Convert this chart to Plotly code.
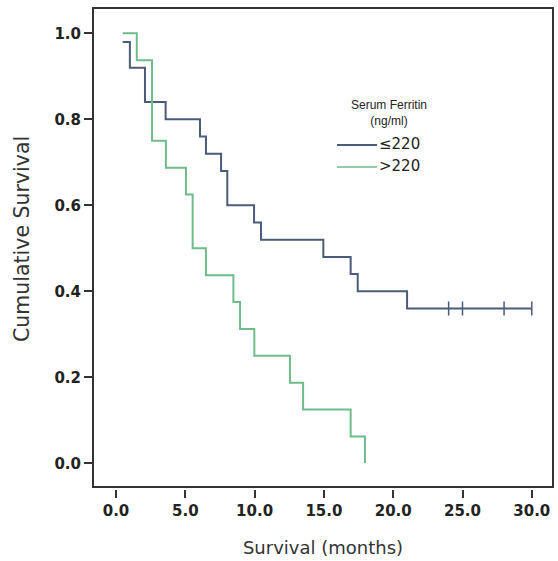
import plotly.graph_objects as go

# Kaplan-Meier step curves by serum ferritin group (months, cumulative survival)
low_times = [0.48, 1.0, 2.09, 3.58, 6.06, 6.49, 7.58, 8.03, 9.96, 10.46, 14.96, 16.93, 17.44, 21.0, 30.0]
low_surv = [0.98, 0.92, 0.84, 0.80, 0.76, 0.72, 0.68, 0.60, 0.56, 0.52, 0.48, 0.44, 0.40, 0.36, 0.36]
low_censor_times = [24.0, 25.0, 28.0, 30.0]
low_censor_surv = [0.36, 0.36, 0.36, 0.36]

high_times = [0.48, 1.5, 2.6, 3.6, 5.05, 5.53, 6.49, 8.47, 8.95, 9.98, 12.55, 13.5, 16.93, 17.96]
high_surv = [1.0, 0.9375, 0.75, 0.6875, 0.625, 0.5, 0.4375, 0.375, 0.3125, 0.25, 0.1875, 0.125, 0.0625, 0.0]

x_ticks = [0, 5, 10, 15, 20, 25, 30]
y_ticks = [0.0, 0.2, 0.4, 0.6, 0.8, 1.0]

group_labels = ["\u2264220", ">220"]
legend_title = "Serum Ferritin<br>(ng/ml)"

LOW_COLOR = "#4b5b7a"
HIGH_COLOR = "#6fbc8b"
TEXT_COLOR = "#222222"
FONT = "Liberation Sans, Arial, sans-serif"
WIDE = "DejaVu Sans, sans-serif"

fig = go.Figure()
fig.add_trace(go.Scatter(
    x=low_times, y=low_surv, mode="lines", line=dict(color=LOW_COLOR, width=2, shape="hv"),
    name=group_labels[0], showlegend=False, cliponaxis=False,
))
fig.add_trace(go.Scatter(
    x=low_censor_times, y=low_censor_surv, mode="markers",
    marker=dict(symbol="line-ns", size=10, line=dict(color=LOW_COLOR, width=1.5)),
    showlegend=False, cliponaxis=False,
))
fig.add_trace(go.Scatter(
    x=high_times, y=high_surv, mode="lines", line=dict(color=HIGH_COLOR, width=2, shape="hv"),
    name=group_labels[1], showlegend=False, cliponaxis=False,
))

W, H = 558, 561
ML, MR, MT, MB = 93, 5, 8, 72
ph = H - MT - MB
pw = W - ML - MR

def px_x(px):
    return (px - ML) / pw

def px_y(py):
    return (H - MB - py) / ph

# plot frame (bottom edge sits a little above the x tick marks)
fig.add_shape(type="rect", xref="paper", yref="paper", x0=0, x1=1, y0=px_y(487), y1=1,
              line=dict(color="#333333", width=2), layer="above")

# legend block
fig.add_annotation(xref="paper", yref="paper", x=px_x(389), y=px_y(113), text=legend_title,
                   showarrow=False, xanchor="center", yanchor="middle", align="center",
                   font=dict(family=FONT, size=12, color=TEXT_COLOR))
for i, (lab, col, yy) in enumerate(zip(group_labels, [LOW_COLOR, HIGH_COLOR], [145, 167])):
    fig.add_shape(type="line", xref="paper", yref="paper", x0=px_x(337), x1=px_x(377),
                  y0=px_y(yy), y1=px_y(yy), line=dict(color=col, width=2 if i == 0 else 1.5))
    fig.add_annotation(xref="paper", yref="paper", x=px_x(377), y=px_y(yy - 1), text=lab,
                       showarrow=False, xanchor="left", yanchor="middle",
                       font=dict(family=WIDE, size=15, color=TEXT_COLOR))

# vertical axis title
fig.add_annotation(xref="paper", yref="paper", x=px_x(22), y=px_y(239), text="Cumulative Survival",
                   textangle=-90, showarrow=False, xanchor="center", yanchor="middle",
                   font=dict(family=WIDE, size=20.5, color="#333333"))

fig.update_xaxes(
    range=[(93 - 116) / 13.86, (553 - 116) / 13.86],
    tickvals=x_ticks, tickformat=".1f",
    ticks="outside", ticklen=8, tickwidth=1.5, tickcolor="#333333",
    showline=False, showgrid=False, zeroline=False,
    tickfont=dict(family=WIDE, size=15, color=TEXT_COLOR, weight="bold"),
    title=dict(text="Survival (months)", font=dict(family=WIDE, size=18, color="#333333"), standoff=22),
)
fig.update_yaxes(
    range=[(463.3 - 489) / 430, (463.3 - 8) / 430],
    tickvals=y_ticks, tickformat=".1f",
    ticks="outside", ticklen=8, tickwidth=1.5, tickcolor="#333333",
    showline=False, showgrid=False, zeroline=False,
    tickfont=dict(family=WIDE, size=15, color=TEXT_COLOR, weight="bold"),
)
fig.update_layout(
    width=W, height=H,
    margin=dict(l=ML, r=MR, t=MT, b=MB),
    plot_bgcolor="white", paper_bgcolor="white",
    showlegend=False,
)
fig.write_html("out.html")
